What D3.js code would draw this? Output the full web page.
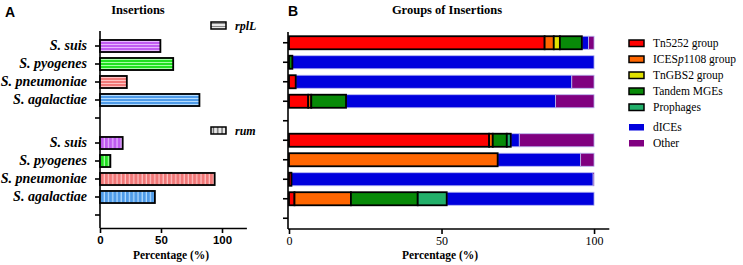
<!DOCTYPE html>
<html>
<head>
<meta charset="utf-8">
<script src="https://cdn.jsdelivr.net/npm/d3@7"></script>
<style>
body { margin: 0; background: #fff; }
svg { display: block; }
</style>
</head>
<body>
<svg id="chart"></svg>
<script>
// ---- data ----
const species = ["S. suis", "S. pyogenes", "S. pneumoniae", "S. agalactiae"];
const rplL = [49.5, 60, 22, 81.5];
const rum = [18.6, 8.5, 94, 45];
const pctTicks = [0, 50, 100];

const groupNames = ["Tn5252 group", "ICESp1108 group", "TnGBS2 group", "Tandem MGEs", "Prophages", "dICEs", "Other"];
// rows: rplL S. suis, S. pyogenes, S. pneumoniae, S. agalactiae, then rum in same order
const tn5252    = [83.8, 0,    2.2,  6.3,  65.6, 0,    0.8,  1.8];
const iceSp1108 = [3,    0,    0,    1,    1.2,  68.4, 0,    18.5];
const tnGBS2    = [2,    0,    0,    0,    0,    0,    0,    0];
const tandem    = [7.2,  1.1,  0,    11.4, 4.6,  0,    0,    21.9];
const prophages = [0,    0,    0,    0,    1.3,  0,    0,    9.5];
const dICEs     = [2.2,  98.9, 90.5, 68.7, 2.8,  27.2, 98.9, 48.3];
const other     = [1.8,  0,    7.3,  12.6, 24.5, 4.4,  0.3,  0];

const SERIF = "'Liberation Serif', 'DejaVu Serif', serif";
const SANS = "'Liberation Sans', Arial, sans-serif";

const svg_width = 743, svg_height = 265;
const svg = d3.select("#chart")
    .attr("width", svg_width)
    .attr("height", svg_height);

const speciesColor = { "S. suis": "#c05cf0", "S. pyogenes": "#22e022", "S. pneumoniae": "#f07878", "S. agalactiae": "#4f9be8" };
const stripeColor = { "S. suis": "#e6b8ff", "S. pyogenes": "#a8ffa8", "S. pneumoniae": "#ffc4c4", "S. agalactiae": "#b4dcff" };
const groupColor = ["#ff0000", "#ff6600", "#e0e000", "#088a08", "#22b06a", "#0000dd", "#800080"];
const outlined = [true, true, true, true, true, false, false];

// ---- patterns ----
const defs = svg.append("defs");
function makePattern(id, base, light, horizontal) {
    const p = defs.append("pattern")
        .attr("id", id)
        .attr("patternUnits", "userSpaceOnUse")
        .attr("width", horizontal ? 6 : 4.2)
        .attr("height", horizontal ? 3 : 6);
    p.append("rect").attr("width", 10).attr("height", 10).attr("fill", base);
    if (horizontal) {
        p.append("rect").attr("x", 0).attr("y", 2).attr("width", 6).attr("height", 1).attr("fill", light);
    } else {
        p.append("rect").attr("x", 3).attr("y", 0).attr("width", 1.2).attr("height", 6).attr("fill", light);
    }
}
species.forEach((s, i) => {
    makePattern("h" + i, speciesColor[s], stripeColor[s], true);
    makePattern("v" + i, speciesColor[s], stripeColor[s], false);
});
makePattern("hLeg", "#e8e8e8", "#888", true);
makePattern("vLeg", "#e8e8e8", "#555", false);

function styleAxis(g) {
    g.selectAll("path").attr("stroke", "#000").attr("stroke-width", 1.6);
    g.selectAll("line").attr("stroke", "#000").attr("stroke-width", 1.6);
}

function txt(x, y, s, size, opts = {}) {
    return svg.append("text").attr("x", x).attr("y", y)
        .style("font-family", opts.family || SERIF)
        .attr("font-size", size)
        .attr("font-weight", opts.weight || "normal")
        .attr("font-style", opts.style || "normal")
        .attr("text-anchor", opts.anchor || "start")
        .text(s);
}

// ================= Panel A =================
const xA = d3.scaleLinear().domain([0, 120]).range([100, 246.4]);
const topKeys = species.concat(["gapTop"]);
const botKeys = species.concat(["gapBot"]);
const yTop = d3.scaleBand().domain(topKeys).range([37, 127]).paddingInner(0.33).paddingOuter(0.165);
const yBot = d3.scaleBand().domain(botKeys).range([134, 224]).paddingInner(0.33).paddingOuter(0.165);

txt(5, 17, "A", 14, { family: SANS, weight: "bold" });
txt(138, 14, "Insertions", 12.5, { weight: "bold", anchor: "middle" });

const labelFmt = d => species.includes(d) ? d : "";
[yTop, yBot].forEach(sc => {
    const g = svg.append("g")
        .attr("transform", "translate(100,0)")
        .call(d3.axisLeft(sc).tickSize(5).tickSizeOuter(0).tickPadding(8).tickFormat(labelFmt));
    g.select(".domain").remove();
    styleAxis(g);
    g.selectAll("text")
        .style("font-family", SERIF)
        .attr("font-size", 14).attr("font-weight", "bold").attr("font-style", "italic")
        .attr("fill", "#000");
});
svg.append("line").attr("x1", 100).attr("x2", 100).attr("y1", 31).attr("y2", 228)
    .attr("stroke", "#000").attr("stroke-width", 1.6);

const gxA = svg.append("g")
    .attr("transform", "translate(0,228)")
    .call(d3.axisBottom(xA).tickValues(pctTicks).tickSize(5).tickSizeOuter(0).tickPadding(3));
styleAxis(gxA);
gxA.selectAll("text")
    .style("font-family", SANS)
    .attr("font-size", 11.5).attr("font-weight", "bold").attr("fill", "#000");

txt(171, 259, "Percentage (%)", 11.5, { weight: "bold", anchor: "middle" });

svg.append("g").selectAll("rect")
    .data(species)
    .join("rect")
    .attr("x", xA(0))
    .attr("y", d => yTop(d))
    .attr("width", (d, i) => xA(rplL[i]) - xA(0))
    .attr("height", yTop.bandwidth())
    .attr("fill", (d, i) => `url(#h${i})`)
    .attr("stroke", "#000").attr("stroke-width", 1.8);

svg.append("g").selectAll("rect")
    .data(species)
    .join("rect")
    .attr("x", xA(0))
    .attr("y", d => yBot(d))
    .attr("width", (d, i) => xA(rum[i]) - xA(0))
    .attr("height", yBot.bandwidth())
    .attr("fill", (d, i) => `url(#v${i})`)
    .attr("stroke", "#000").attr("stroke-width", 1.8);

// legends for A
[["hLeg", "rplL", 22], ["vLeg", "rum", 127]].forEach(([pat, label, y]) => {
    svg.append("rect").attr("x", 211).attr("y", y).attr("width", 15).attr("height", 7)
        .attr("fill", `url(#${pat})`).attr("stroke", "#000").attr("stroke-width", 1.5);
    txt(235, y + 8, label, 12, { weight: "bold", style: "italic" });
});

// ================= Panel B =================
const rowKeys = species.map(s => "rplL|" + s).concat(["rplL|gap"], species.map(s => "rum|" + s), ["rum|gap"]);
const dataRows = rowKeys.filter(k => !k.endsWith("gap"));
const xB = d3.scaleLinear().domain([0, 105]).range([289, 609.3]);
const yB = d3.scaleBand().domain(rowKeys).range([33, 228]).paddingInner(0.33).paddingOuter(0.165);

txt(288, 16, "B", 14, { family: SANS, weight: "bold" });
txt(447, 14, "Groups of Insertions", 12.5, { weight: "bold", anchor: "middle" });

const table = dataRows.map((k, i) => {
    const row = { key: k };
    [tn5252, iceSp1108, tnGBS2, tandem, prophages, dICEs, other].forEach((arr, j) => row[groupNames[j]] = arr[i]);
    return row;
});
const series = d3.stack().keys(groupNames)(table);

// draw unoutlined groups first, then outlined ones on top
const order = [5, 6, 0, 1, 2, 3, 4];
order.forEach(j => {
    svg.append("g").selectAll("rect")
        .data(series[j].filter(d => d[1] - d[0] > 0))
        .join("rect")
        .attr("x", d => xB(d[0]))
        .attr("y", d => yB(d.data.key))
        .attr("width", d => xB(d[1]) - xB(d[0]))
        .attr("height", yB.bandwidth())
        .attr("fill", groupColor[j])
        .attr("stroke", outlined[j] ? "#000" : "#b8b8f0")
        .attr("stroke-width", outlined[j] ? 1.8 : 0.8);
});

const gyB = svg.append("g")
    .attr("transform", "translate(288,0)")
    .call(d3.axisLeft(yB).tickSize(5).tickSizeOuter(0).tickFormat(""));
gyB.select(".domain").remove();
styleAxis(gyB);
svg.append("line").attr("x1", 288).attr("x2", 288).attr("y1", 32).attr("y2", 229)
    .attr("stroke", "#000").attr("stroke-width", 1.6);

const gxB = svg.append("g")
    .attr("transform", "translate(0,229)")
    .call(d3.axisBottom(xB).tickValues(pctTicks).tickSize(5).tickSizeOuter(0).tickPadding(2));
gxB.select(".domain").attr("d", `M288,0H${xB(105)}`);
styleAxis(gxB);
gxB.selectAll("text")
    .style("font-family", SERIF)
    .attr("font-size", 12).attr("fill", "#000");

txt(440, 259, "Percentage (%)", 11.5, { weight: "bold", anchor: "middle" });

// legend for B
const legY = [40, 56, 72, 88, 104, 124, 140];
groupNames.forEach((name, j) => {
    svg.append("rect").attr("x", 629).attr("y", legY[j]).attr("width", 15).attr("height", 6.5)
        .attr("fill", groupColor[j])
        .attr("stroke", outlined[j] ? "#000" : "none").attr("stroke-width", 1.5);
    const t = txt(653, legY[j] + 7, "", 11.5);
    if (name === "ICESp1108 group") {
        t.append("tspan").text("ICES");
        t.append("tspan").attr("font-style", "italic").text("p");
        t.append("tspan").text("1108 group");
    } else {
        t.text(name);
    }
});
</script>
</body>
</html>
